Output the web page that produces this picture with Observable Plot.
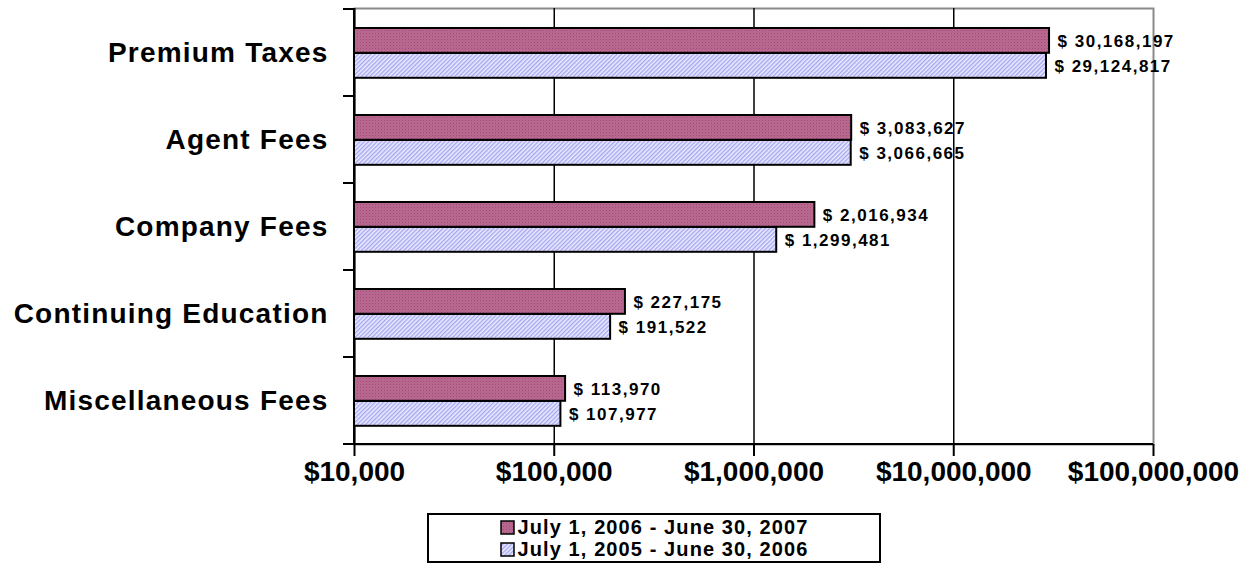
<!DOCTYPE html>
<html>
<head>
<meta charset="utf-8">
<script src="https://cdn.jsdelivr.net/npm/d3@7"></script>
<script src="https://cdn.jsdelivr.net/npm/@observablehq/plot@0.6"></script>
<style>
  html, body { margin: 0; padding: 0; background: #fff; }
  body { font-family: "Liberation Sans", Arial, sans-serif; color: #000; }
  #legend {
    position: absolute; left: 427px; top: 513px; width: 450px; height: 46px;
    border: 2px solid #000; font-weight: bold; font-size: 20px; line-height: 22px; letter-spacing: 1.1px;
    display: flex; flex-direction: column; justify-content: center; align-items: center;
  }
  #legend .row { display: flex; align-items: center; height: 22px; }
  #legend svg { margin-right: 3px; }
</style>
</head>
<body>
<div id="chart"></div>
<div id="legend"></div>
<script>
const categories = ["Premium Taxes", "Agent Fees", "Company Fees", "Continuing Education", "Miscellaneous Fees"];
const values2007 = [30168197, 3083627, 2016934, 227175, 113970];
const values2006 = [29124817, 3066665, 1299481, 191522, 107977];
const seriesNames = ["July 1, 2006 - June 30, 2007", "July 1, 2005 - June 30, 2006"];
const xTicks = [1e4, 1e5, 1e6, 1e7, 1e8];

const rows = categories.map((c, i) => ({category: c, v2007: values2007[i], v2006: values2006[i]}));
const fmtVal = d => "$ " + d3.format(",")(d);
const fmtTick = d => "$" + d3.format(",")(d);

const chart = Plot.plot({
  width: 1255,
  height: 510,
  marginLeft: 354,
  marginRight: 102,
  marginTop: 8,
  marginBottom: 66,
  style: {fontFamily: "'Liberation Sans', Arial, sans-serif", color: "#000", background: "#fff"},
  x: {type: "log", domain: [1e4, 1e8]},
  y: {domain: categories, padding: 0},
  marks: [
    Plot.frame({stroke: "#8a8a8a", strokeWidth: 2}),
    Plot.ruleX(xTicks.slice(1, 4), {stroke: "#000", strokeWidth: 1.5}),
    Plot.ruleX([xTicks[0]], {stroke: "#000", strokeWidth: 2}),
    Plot.barX(rows, {x1: xTicks[0], x2: "v2007", y: "category", fill: "url(#pinkPat)", stroke: "#000", strokeWidth: 2, insetTop: 19, insetBottom: 43.2}),
    Plot.barX(rows, {x1: xTicks[0], x2: "v2006", y: "category", fill: "url(#bluePat)", stroke: "#000", strokeWidth: 2, insetTop: 44, insetBottom: 18.2}),
    Plot.text(rows, {x: "v2007", y: "category", text: d => fmtVal(d.v2007), dx: 8, dy: -11, textAnchor: "start", fontSize: 17, fontWeight: "bold", fill: "#000"}),
    Plot.text(rows, {x: "v2006", y: "category", text: d => fmtVal(d.v2006), dx: 8, dy: 14, textAnchor: "start", fontSize: 17, fontWeight: "bold", fill: "#000"}),
    Plot.axisX({ticks: xTicks, tickFormat: fmtTick, tickSize: 12, tickPadding: 5, fontSize: 28, fontWeight: "bold", strokeWidth: 2, label: null}),
    Plot.axisY({tickSize: 0, tickPadding: 26, fontSize: 28, fontWeight: "bold", label: null})
  ]
});

document.getElementById("chart").appendChild(chart);

// patterns
const svg = d3.select(chart);
const defs = svg.insert("defs", ":first-child");
const pink = defs.append("pattern").attr("id", "pinkPat").attr("patternUnits", "userSpaceOnUse").attr("width", 3).attr("height", 3);
pink.append("rect").attr("width", 3).attr("height", 3).attr("fill", "#bb6890");
pink.append("rect").attr("width", 1).attr("height", 1).attr("fill", "#9c4e78");
pink.append("rect").attr("x", 1.5).attr("y", 1.5).attr("width", 1).attr("height", 1).attr("fill", "#a85a84");
const blue = defs.append("pattern").attr("id", "bluePat").attr("patternUnits", "userSpaceOnUse").attr("width", 3).attr("height", 3).attr("patternTransform", "rotate(45)");
blue.append("rect").attr("width", 3).attr("height", 3).attr("fill", "#ececff");
blue.append("rect").attr("width", 1.4).attr("height", 3).attr("fill", "#a6a6f0");

// category boundary ticks and bottom axis line
const y = chart.scale("y");
const x = chart.scale("x");
const x0 = x.apply(xTicks[0]);
const x1 = x.apply(xTicks[xTicks.length - 1]);
const bounds = categories.map(c => y.apply(c)).concat([y.apply(categories[categories.length - 1]) + y.bandwidth]);
const g = svg.append("g").attr("stroke", "#000").attr("stroke-width", 2);
bounds.forEach(b => g.append("line").attr("x1", x0 - 11).attr("x2", x0).attr("y1", b).attr("y2", b));
g.append("line").attr("x1", x0 - 11).attr("x2", x1).attr("y1", bounds[bounds.length - 1]).attr("y2", bounds[bounds.length - 1]);
g.append("line").attr("x1", x0).attr("x2", x0).attr("y1", bounds[0]).attr("y2", bounds[bounds.length - 1]);

// letter spacing tweaks
svg.selectAll("[aria-label='y-axis tick label'] text").attr("letter-spacing", "1.2px");
svg.selectAll("[aria-label='text'] text").attr("letter-spacing", "1.5px");

// legend
const legend = d3.select("#legend");
const pats = ["pinkPat", "bluePat"];
seriesNames.forEach((name, i) => {
  const row = legend.append("div").attr("class", "row");
  const s = row.append("svg").attr("width", 15).attr("height", 15);
  s.append("rect").attr("x", 1).attr("y", 1).attr("width", 13).attr("height", 13)
    .attr("fill", `url(#${pats[i]})`).attr("stroke", "#000").attr("stroke-width", 1.5);
  row.append("span").text(name);
});
</script>
</body>
</html>
